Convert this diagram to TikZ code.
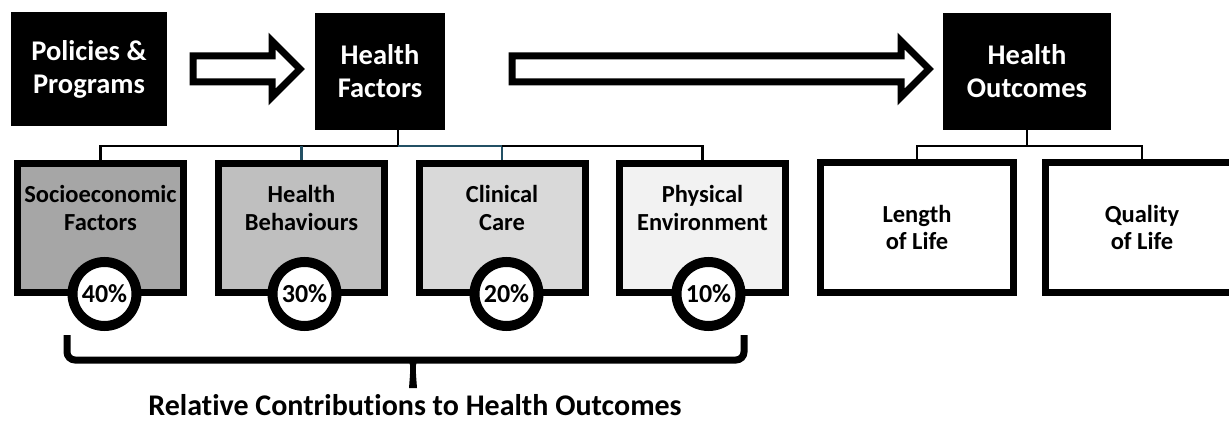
\documentclass[tikz,border=0pt]{standalone}
\usepackage{fontspec}
\setmainfont{Carlito}[Ligatures=NoCommon]
\usetikzlibrary{shapes.arrows}
\definecolor{bleu}{RGB}{35,80,100}
\begin{document}
\begin{tikzpicture}[x=1pt,y=-1pt,
    noir/.style={fill=black,text=white,align=center,inner sep=0pt,font=\bfseries\fontsize{28.5}{33}\selectfont},
    boite/.style={draw,line width=7pt,minimum width=166pt,minimum height=129pt,inner sep=0pt},
    texte/.style={align=center,font=\bfseries\fontsize{24.5}{27.5}\selectfont},
    rond/.style={circle,draw,fill=white,line width=10pt,minimum size=64pt,inner sep=0pt,font=\bfseries\fontsize{26}{30}\selectfont},
    fleche/.style={single arrow,draw,fill=white,line width=7pt,inner xsep=0pt,inner ysep=9.5pt,single arrow head extend=15pt},
    lien/.style={line width=2.5pt}]
    \useasboundingbox (0,0) rectangle (1229,422);
    % boites noires du haut
    \node[noir,minimum width=156pt,minimum height=114pt] (pol) at (89,69) {Policies \&\\Programs};
    \node[noir,minimum width=130pt,minimum height=117pt] (fac) at (380,71.5) {Health\\Factors};
    \node[noir,minimum width=168pt,minimum height=117pt] (out) at (1027,71.5) {Health\\Outcomes};
    \node[fleche,minimum height=107pt] (f1) at (240,69) {};
    \node[fleche,minimum height=417pt] (f2) at (714,69) {};
    % facteurs
    \node[boite,fill=black!35] (soc) at (100.5,228) {};
    \node[boite,fill=black!25] (beh) at (301.5,228) {};
    \node[boite,fill=black!15] (cli) at (502,228) {};
    \node[boite,fill=black!5] (env) at (702.5,228) {};
    \node[texte] (tsoc) at (100.5,208) {Socioeconomic\\Factors};
    \node[texte] (tbeh) at (301.5,208) {Health\\Behaviours};
    \node[texte] (tcli) at (502,208) {Clinical\\Care};
    \node[texte] (tenv) at (702.5,208) {Physical\\Environment};
    \node[rond] (p40) at (104.5,294) {40\%};
    \node[rond] (p30) at (304.5,294) {30\%};
    \node[rond] (p20) at (506.5,294) {20\%};
    \node[rond] (p10) at (708.5,294) {10\%};
    \coordinate (j1) at (398,146);
    \draw[lien] (fac.south -| j1) -- (j1) -- (j1 -| soc.north) -- (soc.north);
    \draw[lien,bleu] (j1) -- (j1 -| cli.north) -- (cli.north);
    \draw[lien,bleu] (j1 -| beh.north) -- (beh.north);
    \draw[lien] (j1 -| cli.north) -- (j1 -| env.north) -- (env.north);
    % resultats
    \node[boite,fill=white,minimum width=193pt,minimum height=130pt] (len) at (917,227.5) {};
    \node[boite,fill=white,minimum width=193pt,minimum height=130pt] (qua) at (1142,227.5) {};
    \node[texte] (tlen) at (len) {Length\\of Life};
    \node[texte] (tqua) at (qua) {Quality\\of Life};
    \draw[lien] (out.south) -- ++(0,16) coordinate (j2) -- (j2 -| len.north) -- (len.north);
    \draw[lien] (j2) -- (j2 -| qua.north) -- (qua.north);
    % accolade
    \draw[line width=7pt,rounded corners=8pt] (67,335) -- (67,360) -- (744,360) -- (744,335);
    \fill (405,360) .. controls (411,362) .. (409,388) -- (417,388) .. controls (415,362) .. (421,360) -- cycle;
    \node[anchor=base,font=\bfseries\fontsize{30}{34}\selectfont] (titre) at (415,415) {Relative Contributions to Health Outcomes};
\end{tikzpicture}
\end{document}
